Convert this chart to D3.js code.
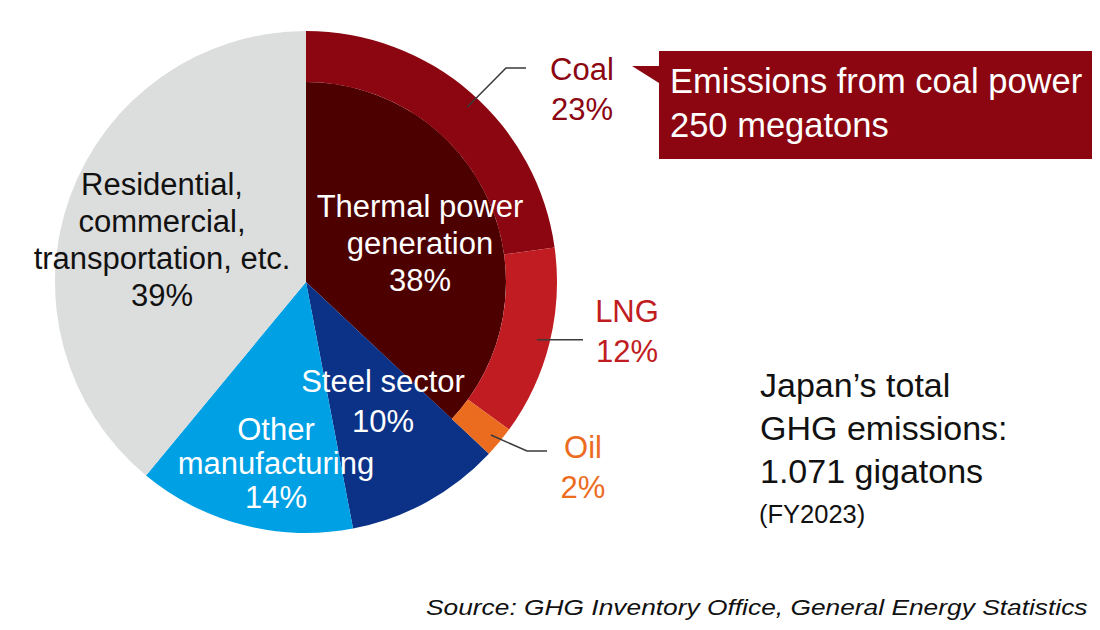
<!DOCTYPE html>
<html lang="en">
<head>
<meta charset="UTF-8">
<title>Japan GHG emissions</title>
<script src="https://cdn.jsdelivr.net/npm/d3@7"></script>
<style>
  body { margin: 0; background: #fff; }
  svg { font-family: Arial, "Liberation Sans", sans-serif; }
</style>
</head>
<body>
<svg id="chart" width="1100" height="630"></svg>
<script>
// main slices, clockwise from 12 o'clock
const sectors = ['Thermal power generation', 'Steel sector', 'Other manufacturing', 'Residential, commercial, transportation, etc.'];
const sectorValues = [37, 10, 14, 39];
const sectorLabels = [['Thermal power', 'generation', '38%'], ['Steel sector', '10%'], ['Other', 'manufacturing', '14%'], ['Residential,', 'commercial,', 'transportation, etc.', '39%']];
const sectorColors = ['#4d0000', '#0b3287', '#00a0e4', '#dcdddd'];

// fuel split of thermal power (outer ring)
const fuels = ['Coal', 'LNG', 'Oil'];
const fuelValues = [22.8, 12.2, 2.0];
const fuelPct = ['23%', '12%', '2%'];
const fuelColors = ['#8b0610', '#c01c22', '#ec6c1f'];

const svg = d3.select('#chart');
const cx = 306, cy = 282, R = 251, rIn = 200;
const g = svg.append('g').attr('transform', `translate(${cx},${cy})`);

const pie = d3.pie().sort(null).startAngle(0).endAngle(2 * Math.PI);
const slices = pie(sectorValues);

const arcFull = d3.arc().innerRadius(0).outerRadius(R);
const arcInner = d3.arc().innerRadius(0).outerRadius(rIn);
const arcRing = d3.arc().innerRadius(rIn).outerRadius(R);

g.selectAll('path.sector')
  .data(slices)
  .enter()
  .append('path')
  .attr('class', 'sector')
  .attr('d', (d, i) => i == 0 ? arcInner(d) : arcFull(d))
  .attr('fill', (d, i) => sectorColors[i]);

// ring covers the thermal slice only
const ringPie = d3.pie().sort(null).startAngle(slices[0].startAngle).endAngle(slices[0].endAngle);
const ring = ringPie(fuelValues);
g.selectAll('path.fuel')
  .data(ring)
  .enter()
  .append('path')
  .attr('class', 'fuel')
  .attr('d', arcRing)
  .attr('fill', (d, i) => fuelColors[i]);

// sector labels: [x, y of first baseline, line step, colour]
const sectorPos = [
  [420, 217, 37, '#fff'],
  [383, 392, 40, '#fff'],
  [276, 440, 34, '#fff'],
  [162, 195, 37, '#111']
];
sectorLabels.forEach((lines, i) => {
  const p = sectorPos[i];
  const t = svg.append('text')
    .attr('text-anchor', 'middle')
    .attr('font-size', 31)
    .attr('fill', p[3]);
  lines.forEach((s, j) => {
    t.append('tspan').attr('x', p[0]).attr('y', p[1] + j * p[2]).text(s);
  });
});

// fuel leaders and labels
const pt = (a, r) => [cx + r * Math.sin(a), cy - r * Math.cos(a)];
const mid = d => (d.startAngle + d.endAngle) / 2;
const fuelLead = [
  { a: ring[0].startAngle + (ring[0].endAngle - ring[0].startAngle) * 0.52, r: 238, pts: [[506, 68], [526, 68]], tx: 582, ty: 80 },
  { a: mid(ring[1]), r: 238, pts: [[583, 311]], tx: 627, ty: 322 },
  { a: mid(ring[2]), r: 240, pts: [[527, 451], [547, 451]], tx: 583, ty: 458 }
];
fuelLead.forEach((f, i) => {
  let start = pt(f.a, f.r);
  let line = f.pts.length == 1 ? [start, [f.pts[0][0], start[1]]] : [start].concat(f.pts);
  svg.append('path')
    .attr('d', d3.line()(line))
    .attr('fill', 'none')
    .attr('stroke', '#3a3a3a')
    .attr('stroke-width', 1.5);
  const t = svg.append('text')
    .attr('text-anchor', 'middle')
    .attr('font-size', 31)
    .attr('fill', fuelColors[i]);
  t.append('tspan').attr('x', f.tx).attr('y', f.ty).text(fuels[i]);
  t.append('tspan').attr('x', f.tx).attr('y', f.ty + 40).text(fuelPct[i]);
});

// coal callout
const box = { x: 659, y: 51, w: 433, h: 108 };
svg.append('path')
  .attr('d', `M${box.x},${box.y}H${box.x + box.w}V${box.y + box.h}H${box.x}V83L632,66H${box.x}Z`)
  .attr('fill', '#8b0610');
const callout = svg.append('text').attr('font-size', 34.5).attr('fill', '#fff');
callout.append('tspan').attr('x', 670).attr('y', 93).text('Emissions from coal power');
callout.append('tspan').attr('x', 670).attr('y', 137).text('250 megatons');

// total note
const note = svg.append('text').attr('fill', '#111').attr('font-size', 34);
['Japan\u2019s total', 'GHG emissions:', '1.071 gigatons'].forEach((s, j) => {
  note.append('tspan').attr('x', 760).attr('y', 397 + j * 43).text(s);
});
svg.append('text').attr('x', 759).attr('y', 523).attr('font-size', 25.5).attr('fill', '#111').text('(FY2023)');

// source line is drawn wide in the original, stretch it to fit
const src = svg.append('text')
  .attr('font-size', 21.5)
  .attr('font-style', 'italic')
  .attr('fill', '#111')
  .text('Source: GHG Inventory Office, General Energy Statistics');
const sx = 662 / src.node().getComputedTextLength();
src.attr('transform', `translate(426,615) scale(${sx},1)`);
</script>
</body>
</html>
